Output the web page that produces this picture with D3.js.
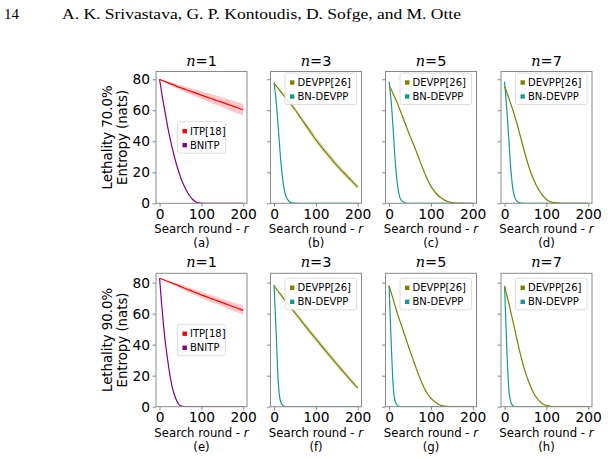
<!DOCTYPE html>
<html>
<head>
<meta charset="utf-8">
<script src="https://cdn.jsdelivr.net/npm/d3@7"></script>
<style>
  body { margin: 0; background: #fff; }
  svg { display: block; font-family: "DejaVu Sans", sans-serif; }
</style>
</head>
<body>
<svg id="chart" width="608" height="459"></svg>
<script>
// search rounds where the curves are sampled
const rounds = [0, 5, 10, 15, 20, 25, 30, 35, 40, 50, 60, 70, 80, 90, 100, 110, 120, 130, 140, 150, 160, 170, 180, 190, 200];

const lethality = ['70.0%', '90.0%'];
const teamSizes = [1, 3, 5, 7];
const panelTags = [['a', 'b', 'c', 'd'], ['e', 'f', 'g', 'h']];
const yTicks = [0, 20, 40, 60, 80];
const xTicks = [0, 100, 200];

// lethality 70%
const itp70 = [80, 79.4, 78.9, 78.3, 77.8, 77.2, 76.7, 76.2, 75.6, 74.6, 73.6, 72.6, 71.7, 70.7, 69.8, 68.8, 67.9, 66.9, 66.0, 65.1, 64.1, 63.2, 62.2, 61.3, 60.3];
const itp70Std = [0, 0.3, 0.5, 0.7, 0.9, 1.0, 1.2, 1.3, 1.4, 1.6, 1.8, 2.0, 2.2, 2.3, 2.5, 2.6, 2.8, 2.9, 3.0, 3.2, 3.3, 3.4, 3.6, 3.7, 3.8];
const bnitp70 = [80, 71.5, 63.5, 56, 48.5, 42, 36, 30.5, 25.5, 17, 10.5, 5.5, 2.3, 0.5, 0.1, 0, 0, 0, 0, 0, 0, 0, 0, 0, 0];
const devpp70n3 = [77.5, 75.8, 74.1, 72.4, 70.7, 69, 67.3, 65.6, 63.9, 60.5, 56.6, 52.7, 48.8, 44.9, 41, 37.6, 34.2, 30.9, 27.7, 24.5, 21.6, 18.8, 16, 13.2, 10.5];
const devpp70n3Std = [0.3, 0.5, 0.7, 0.8, 0.9, 1.0, 1.1, 1.2, 1.3, 1.5, 1.6, 1.7, 1.8, 1.9, 2.0, 2.0, 2.0, 2.0, 1.9, 1.9, 1.8, 1.8, 1.7, 1.6, 1.5];
const bnDevpp70n3 = [78, 66, 49, 31, 17, 8, 3.5, 1.5, 0.5, 0.1, 0, 0, 0, 0, 0, 0, 0, 0, 0, 0, 0, 0, 0, 0, 0];
const devpp70n5 = [76, 73.5, 70.5, 67.5, 64.5, 61, 57.5, 54, 50.5, 43.5, 37, 30, 23, 16.5, 11, 7.2, 4.4, 2.5, 1.2, 0.5, 0.2, 0.1, 0, 0, 0];
const devpp70n5Std = [0.2, 0.3, 0.4, 0.5, 0.5, 0.6, 0.6, 0.7, 0.7, 0.8, 0.8, 0.9, 0.9, 0.9, 0.9, 0.8, 0.7, 0.6, 0.4, 0.3, 0.2, 0.1, 0, 0, 0];
const bnDevpp70n5 = [78.5, 66, 47, 26, 12, 4.5, 1.8, 0.7, 0.2, 0, 0, 0, 0, 0, 0, 0, 0, 0, 0, 0, 0, 0, 0, 0, 0];
const devpp70n7 = [75.5, 72, 68, 64, 60, 55.5, 51, 46, 41, 31, 22, 15, 9.5, 5.5, 2.5, 1, 0.4, 0.1, 0, 0, 0, 0, 0, 0, 0];
const devpp70n7Std = [0.2, 0.3, 0.4, 0.5, 0.6, 0.6, 0.7, 0.7, 0.7, 0.7, 0.6, 0.5, 0.4, 0.3, 0.2, 0.1, 0, 0, 0, 0, 0, 0, 0, 0, 0];
const bnDevpp70n7 = [78.5, 62, 42, 22, 9, 3.5, 1.2, 0.4, 0.1, 0, 0, 0, 0, 0, 0, 0, 0, 0, 0, 0, 0, 0, 0, 0, 0];

// lethality 90%
const itp90 = [82.8, 82.3, 81.8, 81.2, 80.7, 80.2, 79.6, 79.1, 78.6, 77.5, 76.4, 75.3, 74.3, 73.2, 72.1, 71.1, 70.1, 69.1, 68.1, 67.1, 66.1, 65.1, 64.1, 63.1, 62.1];
const itp90Std = [0, 0.2, 0.4, 0.5, 0.7, 0.8, 0.9, 1.0, 1.1, 1.3, 1.5, 1.6, 1.8, 1.9, 2.0, 2.1, 2.2, 2.3, 2.4, 2.5, 2.6, 2.7, 2.8, 2.9, 3.0];
const bnitp90 = [83, 66, 51, 39, 29, 20, 13, 8, 4.5, 0.5, 0, 0, 0, 0, 0, 0, 0, 0, 0, 0, 0, 0, 0, 0, 0];
const devpp90n3 = [78, 76.2, 74.4, 72.6, 70.8, 69, 67.3, 65.6, 63.9, 60.5, 57.1, 53.7, 50.3, 47, 43.7, 40.4, 37.1, 33.9, 30.7, 27.5, 24.3, 21.2, 18.1, 15, 12];
const devpp90n3Std = [0.3, 0.4, 0.6, 0.7, 0.8, 0.9, 1.0, 1.1, 1.1, 1.3, 1.4, 1.5, 1.6, 1.7, 1.8, 1.8, 1.8, 1.8, 1.7, 1.7, 1.6, 1.6, 1.5, 1.4, 1.3];
const bnDevpp90n3 = [78.5, 48, 16, 4, 1, 0.3, 0.1, 0, 0, 0, 0, 0, 0, 0, 0, 0, 0, 0, 0, 0, 0, 0, 0, 0, 0];
const devpp90n5 = [78, 73.5, 69, 64.5, 60, 56, 52, 48, 44, 36, 28.5, 21, 14.5, 9, 5.5, 3, 1.3, 0.5, 0.2, 0, 0, 0, 0, 0, 0];
const devpp90n5Std = [0.2, 0.3, 0.4, 0.4, 0.5, 0.5, 0.5, 0.6, 0.6, 0.6, 0.6, 0.6, 0.5, 0.4, 0.3, 0.2, 0.1, 0.1, 0, 0, 0, 0, 0, 0, 0];
const bnDevpp90n5 = [78, 42, 13, 3, 0.8, 0.2, 0, 0, 0, 0, 0, 0, 0, 0, 0, 0, 0, 0, 0, 0, 0, 0, 0, 0, 0];
const devpp90n7 = [77.5, 72.5, 67, 61, 55, 49, 43, 37, 31.5, 22, 14.5, 8.5, 4.5, 2, 0.8, 0.3, 0.1, 0, 0, 0, 0, 0, 0, 0, 0];
const devpp90n7Std = [0.2, 0.3, 0.4, 0.4, 0.5, 0.5, 0.5, 0.5, 0.5, 0.4, 0.4, 0.3, 0.2, 0.1, 0.1, 0, 0, 0, 0, 0, 0, 0, 0, 0, 0];
const bnDevpp90n7 = [78, 40, 12, 3, 0.6, 0.1, 0, 0, 0, 0, 0, 0, 0, 0, 0, 0, 0, 0, 0, 0, 0, 0, 0, 0, 0];

const colors = {
    itp: '#ff0000',
    bnitp: '#800080',
    devpp: '#808000',
    bndevpp: '#139a92'
};

// rows of panels, built from the arrays above
const rows = [
    [
        { base: itp70, std: itp70Std, bn: bnitp70, kind: 'itp' },
        { base: devpp70n3, std: devpp70n3Std, bn: bnDevpp70n3, kind: 'devpp' },
        { base: devpp70n5, std: devpp70n5Std, bn: bnDevpp70n5, kind: 'devpp' },
        { base: devpp70n7, std: devpp70n7Std, bn: bnDevpp70n7, kind: 'devpp' }
    ],
    [
        { base: itp90, std: itp90Std, bn: bnitp90, kind: 'itp' },
        { base: devpp90n3, std: devpp90n3Std, bn: bnDevpp90n3, kind: 'devpp' },
        { base: devpp90n5, std: devpp90n5Std, bn: bnDevpp90n5, kind: 'devpp' },
        { base: devpp90n7, std: devpp90n7Std, bn: bnDevpp90n7, kind: 'devpp' }
    ]
];

const svg = d3.select('#chart');

// page header
svg.append('text')
    .attr('x', 4).attr('y', 18.5)
    .attr('font-family', 'Liberation Serif, serif')
    .attr('font-size', 15)
    .text('14');
svg.append('text')
    .attr('x', 62).attr('y', 18.5)
    .attr('font-family', 'Liberation Serif, serif')
    .attr('font-size', 15)
    .attr('textLength', 399)
    .attr('lengthAdjust', 'spacingAndGlyphs')
    .text('A. K. Srivastava, G. P. Kontoudis, D. Sofge, and M. Otte');

const panelLeft = [156, 270.5, 385.5, 501];
const panelWidth = 91;
const rowTop = [71.5, 273.3];
const rowBottom = [203.3, 406.7];
const yMax = [85, 86];
const legendTopOffset = [1.5, 5];
const spineColor = '#8a8a8a';

rows.forEach((row, ri) => {
    const y = d3.scaleLinear().domain([0, yMax[ri]]).range([rowBottom[ri], rowTop[ri]]);

    row.forEach((p, ci) => {
        const left = panelLeft[ci];
        const x = d3.scaleLinear().domain([-8.5, 209]).range([left, left + panelWidth]);
        const g = svg.append('g');
        const clipId = `clip-${ri}-${ci}`;
        svg.append('clipPath').attr('id', clipId)
            .append('rect')
            .attr('x', left).attr('y', rowTop[ri])
            .attr('width', panelWidth).attr('height', rowBottom[ri] - rowTop[ri]);

        const plot = g.append('g').attr('clip-path', `url(#${clipId})`);
        const baseColor = p.kind === 'itp' ? colors.itp : colors.devpp;
        const bnColor = p.kind === 'itp' ? colors.bnitp : colors.bndevpp;

        const area = d3.area()
            .x((d, i) => x(rounds[i]))
            .y0((d, i) => y(Math.max(0, d - p.std[i])))
            .y1((d, i) => y(d + p.std[i]))
            .curve(d3.curveMonotoneX);
        const line = d3.line()
            .x((d, i) => x(rounds[i]))
            .y(d => y(d))
            .curve(d3.curveMonotoneX);

        plot.append('path')
            .datum(p.base)
            .attr('d', area)
            .attr('fill', baseColor)
            .attr('fill-opacity', p.kind === 'itp' ? 0.22 : 0.25);

        plot.append('path')
            .datum(p.bn)
            .attr('d', line)
            .attr('fill', 'none')
            .attr('stroke', bnColor)
            .attr('stroke-width', 1.2);

        plot.append('path')
            .datum(p.base)
            .attr('d', line)
            .attr('fill', 'none')
            .attr('stroke', baseColor)
            .attr('stroke-width', 1.2);

        // frame
        g.append('rect')
            .attr('x', left).attr('y', rowTop[ri])
            .attr('width', panelWidth).attr('height', rowBottom[ri] - rowTop[ri])
            .attr('fill', 'none')
            .attr('stroke', spineColor)
            .attr('stroke-width', 1);

        // axes
        const xAxis = d3.axisBottom(x).tickValues(xTicks).tickSize(3.5).tickPadding(2.5);
        const xg = g.append('g')
            .attr('transform', `translate(0,${rowBottom[ri]})`)
            .call(xAxis);
        const yAxis = d3.axisLeft(y).tickValues(yTicks).tickSize(3.5).tickPadding(2.5);
        if (ci > 0) yAxis.tickFormat('');
        const yg = g.append('g')
            .attr('transform', `translate(${left},0)`)
            .call(yAxis);
        [xg, yg].forEach(ax => {
            ax.select('.domain').remove();
            ax.selectAll('.tick line').attr('stroke', spineColor);
            ax.selectAll('.tick text')
                .attr('fill', '#000')
                .attr('font-size', 13.8)
                .attr('font-family', 'DejaVu Sans, sans-serif');
        });

        const cx = left + panelWidth / 2;

        // title
        const title = g.append('text')
            .attr('x', cx).attr('y', rowTop[ri] - 6)
            .attr('text-anchor', 'middle')
            .attr('font-size', 14.5);
        title.append('tspan')
            .attr('font-family', 'DejaVu Serif, serif')
            .attr('font-style', 'italic')
            .text('n');
        title.append('tspan').text('=' + teamSizes[ci]);

        // x label
        const xl = g.append('text')
            .attr('x', cx).attr('y', rowBottom[ri] + 30)
            .attr('text-anchor', 'middle')
            .attr('font-size', 11.7);
        xl.append('tspan').text('Search round - ');
        xl.append('tspan').attr('font-style', 'italic').text('r');

        g.append('text')
            .attr('x', cx).attr('y', rowBottom[ri] + 44)
            .attr('text-anchor', 'middle')
            .attr('font-size', 11.7)
            .text(`(${panelTags[ri][ci]})`);

        // legend
        let lx, ly, lw, lh = 31.5;
        const names = p.kind === 'itp' ? ['ITP[18]', 'BNITP'] : ['DEVPP[26]', 'BN-DEVPP'];
        if (p.kind === 'itp') {
            lw = 48;
            lx = cx - lw / 2;
            ly = (rowTop[ri] + rowBottom[ri]) / 2 - lh / 2;
        } else {
            lw = 71.5;
            lx = left + panelWidth - 5 - lw;
            ly = rowTop[ri] + legendTopOffset[ri];
        }
        const lg = g.append('g');
        lg.append('rect')
            .attr('x', lx).attr('y', ly)
            .attr('width', lw).attr('height', lh)
            .attr('rx', 2)
            .attr('fill', '#fff').attr('fill-opacity', 0.85)
            .attr('stroke', '#d5d5d5').attr('stroke-width', 0.8);
        names.forEach((name, k) => {
            const rowY = ly + 9.5 + k * 14;
            lg.append('rect')
                .attr('x', lx + 5).attr('y', rowY - 2.2)
                .attr('width', 4.4).attr('height', 4.4)
                .attr('fill', k === 0 ? baseColor : bnColor);
            lg.append('text')
                .attr('x', lx + 12.5).attr('y', rowY + 3.6)
                .attr('font-size', 10)
                .text(name);
        });
    });

    // y label, two lines
    const cy = (rowTop[ri] + rowBottom[ri]) / 2;
    const yl = svg.append('text')
        .attr('transform', `translate(112,${cy}) rotate(-90)`)
        .attr('text-anchor', 'middle')
        .attr('font-size', 13.3);
    yl.append('tspan').attr('x', 0).attr('dy', 0).text(`Lethality ${lethality[ri]}`);
    yl.append('tspan').attr('x', 0).attr('dy', 15).text('Entropy (nats)');
});
</script>
</body>
</html>
